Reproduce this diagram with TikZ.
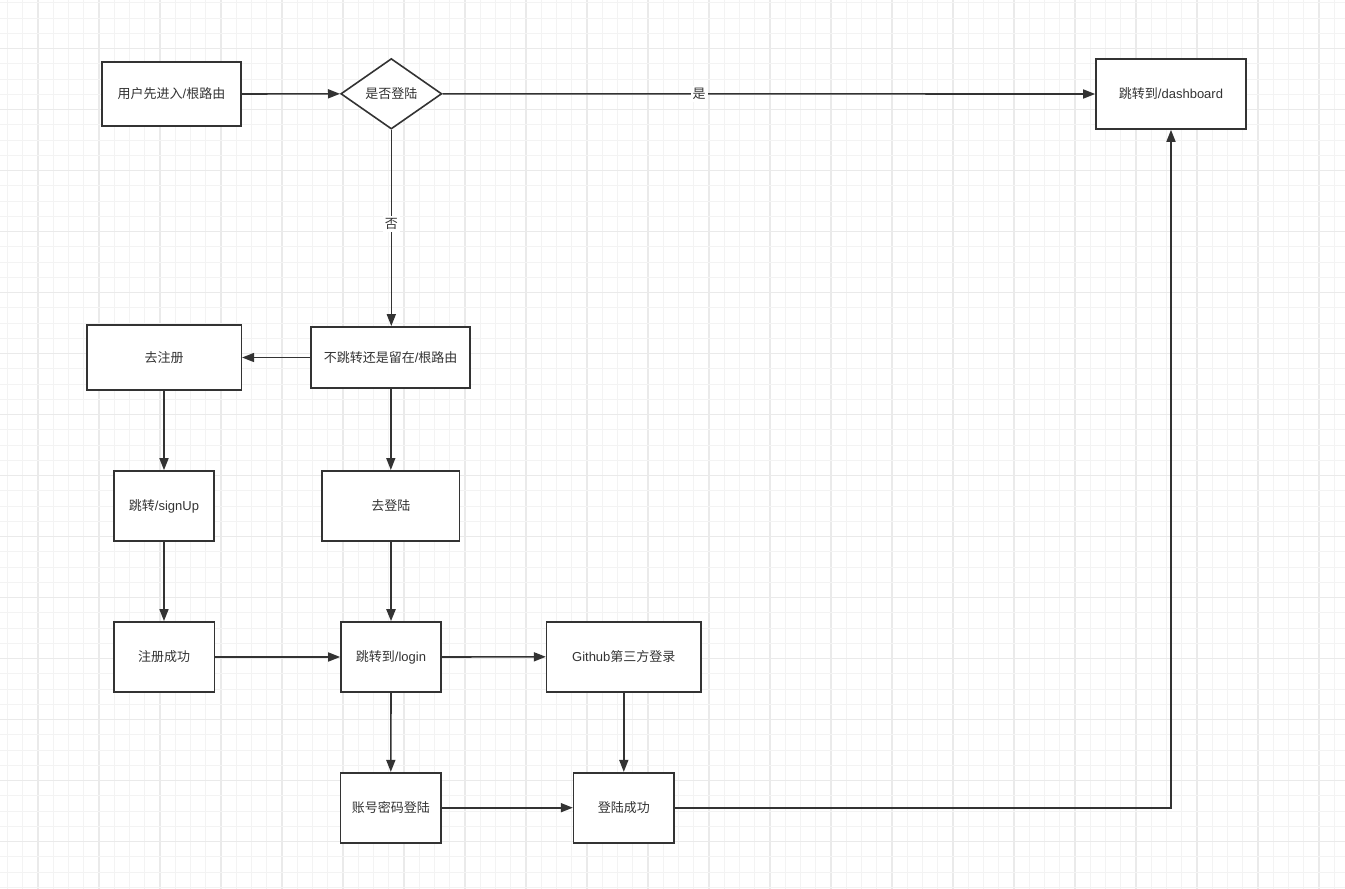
\documentclass[tikz,border=0pt]{standalone}
\usepackage{fontspec}
\setmainfont{Liberation Sans}
\newfontfamily\cjk{Noto Sans CJK SC}
\usetikzlibrary{arrows.meta,shapes.geometric}
\definecolor{ink}{RGB}{51,51,51}
\definecolor{gridminor}{RGB}{243,243,243}
\definecolor{gridmajor}{RGB}{234,234,234}
\tikzset{
  box/.style={draw=ink, line width=1.6pt, fill=white, inner sep=0pt, text=ink,
    font=\fontsize{13}{15}\selectfont},
  decision/.style={box, diamond, aspect=1.43},
  flow/.style={draw=ink, line width=1.6pt, -{Triangle[length=12pt,width=9pt]}},
  elabel/.style={fill=white, inner sep=2pt, text=ink, font=\fontsize{13}{15}\selectfont},
}
\begin{document}
\begin{tikzpicture}[x=1pt,y=-1pt]
\useasboundingbox (0,0) rectangle (1345,889);
\fill[white] (0,0) rectangle (1345,889);
% grid
\foreach \k in {0,...,87}{
  \pgfmathsetmacro{\xx}{7.5+15.25*\k}
  \pgfmathtruncatemacro{\m}{mod(\k,4)}
  \ifnum\m=2
    \draw[gridmajor, line width=1.3pt] (\xx,0) -- (\xx,889);
  \else
    \draw[gridminor, line width=1pt] (\xx,0) -- (\xx,889);
  \fi
}
\foreach \k in {0,...,58}{
  \pgfmathsetmacro{\yy}{2.95+15.25*\k}
  \pgfmathtruncatemacro{\m}{mod(\k,4)}
  \ifnum\m=3
    \draw[gridmajor, line width=1.3pt] (0,\yy) -- (1345,\yy);
  \else
    \draw[gridminor, line width=1pt] (0,\yy) -- (1345,\yy);
  \fi
}
% nodes
\node[box, minimum width=139pt, minimum height=64pt] (n1) at (171.5,94) {{\cjk 用户先进入}/{\cjk 根路由}};
\node[decision, minimum width=101pt, minimum height=70.5pt] (n2) at (391.3,93.8) {\cjk 是否登陆};
\node[box, minimum width=150pt, minimum height=70pt] (n3) at (1171,94) {{\cjk 跳转到}/dashboard};
\node[box, minimum width=154.6pt, minimum height=65pt] (n4) at (164,357.5) {\cjk 去注册};
\node[box, minimum width=159.3pt, minimum height=61.3pt] (n5) at (390.6,357.5) {{\cjk 不跳转还是留在}/{\cjk 根路由}};
\node[box, minimum width=100pt, minimum height=70pt] (n6) at (164,506) {{\cjk 跳转}/signUp};
\node[box, minimum width=137.6pt, minimum height=70pt] (n7) at (390.8,505.8) {\cjk 去登陆};
\node[box, minimum width=100.6pt, minimum height=70.3pt] (n8) at (164,657) {\cjk 注册成功};
\node[box, minimum width=100pt, minimum height=70pt] (n9) at (391,657) {{\cjk 跳转到}/login};
\node[box, minimum width=154.3pt, minimum height=70pt] (n10) at (623.8,656.8) {Github{\cjk 第三方登录}};
\node[box, minimum width=100.3pt, minimum height=70pt] (n11) at (390.8,807.7) {\cjk 账号密码登陆};
\node[box, minimum width=100.3pt, minimum height=70pt] (n12) at (623.8,807.7) {\cjk 登陆成功};
% connectors
\draw[flow] (n1.east) -- (n2.west);
\draw[flow] (n2.east) -- node[elabel, pos=0.393] {\cjk 是} (n3.west);
\draw[flow] (n2.south) -- node[elabel, pos=0.48] {\cjk 否} (n5.north -| n2.south);
\draw[flow] (n5.west) -- (n4.east);
\draw[flow] (n5.south -| n7.north) -- (n7.north);
\draw[flow] (n4.south) -- (n6.north);
\draw[flow] (n6.south) -- (n8.north);
\draw[flow, line width=2.2pt] (n7.south -| n9.north) -- (n9.north);
\draw[flow] (n8.east) -- (n9.west);
\draw[flow] (n9.east) -- (n10.west);
\draw[flow] (n9.south) -- (n11.north);
\draw[flow] (n10.south) -- (n12.north);
\draw[flow] (n11.east) -- (n12.west);
\draw[flow] (n12.east) -- (n12.east -| n3.south) -- (n3.south);
\end{tikzpicture}
\end{document}
